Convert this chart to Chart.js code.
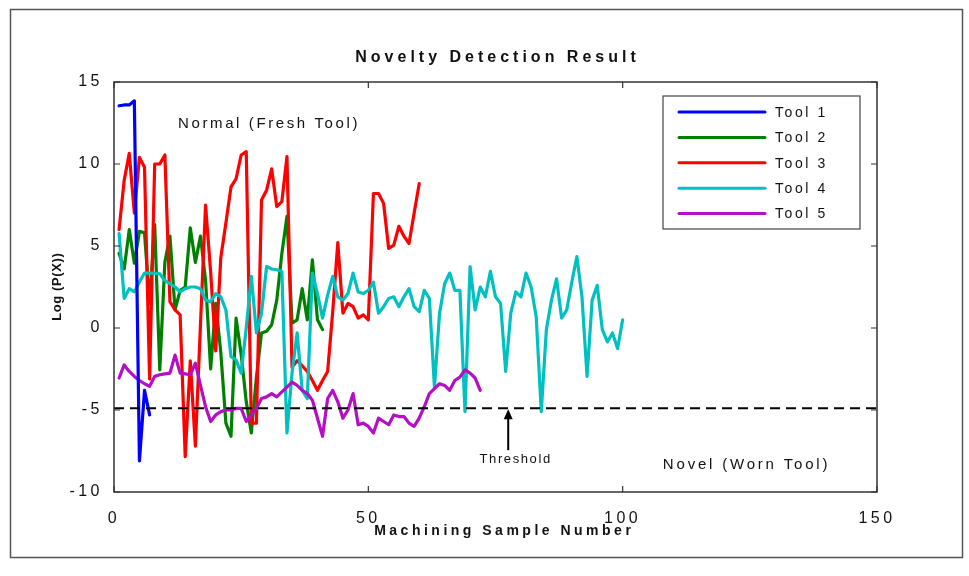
<!DOCTYPE html>
<html><head><meta charset="utf-8">
<script src="https://cdn.jsdelivr.net/npm/chart.js@4.4.0/dist/chart.umd.min.js"></script>
<style>html,body{margin:0;padding:0;background:#fff;}canvas{display:block;}</style>
</head><body>
<canvas id="c" width="969" height="576"></canvas>
<script>
const seriesNames = ['Tool 1', 'Tool 2', 'Tool 3', 'Tool 4', 'Tool 5'];
const tool1 = [13.55, 13.6, 13.6, 13.85, -8.1, -3.8, -5.3];
const tool2 = [4.55, 3.6, 6.0, 3.95, 5.9, 5.8, 1.5, 6.3, -2.55, 4.0, 5.6, 1.1, 2.3, 2.5, 6.1, 4.0, 5.6, 2.9, -2.5, 1.5,
  -1.5, -5.8, -6.6, 0.6, -1.6, -4.5, -6.4, -3.0, -0.3, -0.2, 0.2, 1.7, 4.55, 6.8, 0.3, 0.5, 2.4, 0.5, 4.15, 0.5, -0.1];
const tool3 = [6.0, 9.0, 10.65, 7.0, 10.4, 9.8, -3.1, 10.0, 10.0, 10.55,
  1.6, 1.1, 0.8, -7.85, -2.0, -7.2, 0.2, 7.5, 3.4, -1.4,
  4.3, 6.4, 8.6, 9.1, 10.55, 10.75, -5.8, -5.8, 7.8, 8.4,
  9.7, 7.4, 7.7, 10.45, -2.4, -2.0, -2.3, -2.65, -3.2, -3.8,
  -3.2, -2.65, 1.0, 5.2, 0.9, 1.5, 1.3, 0.6, 0.8, 0.5,
  8.2, 8.2, 7.6, 4.85, 5.05, 6.2, 5.6, 5.15, 7.0, 8.8];
const tool4 = [5.75, 1.8, 2.4, 2.2, 2.8, 3.35, 3.35, 3.35, 3.3, 2.9,
  2.7, 2.5, 2.2, 2.4, 2.5, 2.5, 2.4, 1.7, 1.6, 2.1,
  1.9, 1.1, -1.75, -1.95, -2.75, 0.0, 3.15, -0.3, 0.9, 3.75,
  3.6, 3.55, 3.45, -6.4, -2.75, -0.3, -3.8, -4.3, 3.35, 2.1,
  0.6, 2.0, 3.15, 1.9, 1.7, 2.1, 3.35, 2.2, 2.1, 2.3,
  2.8, 0.9, 1.3, 1.8, 1.9, 1.3, 1.9, 2.4, 1.3, 1.0,
  2.3, 1.8, -3.6, 0.9, 2.7, 3.35, 2.3, 2.3, -5.1, 3.75,
  1.1, 2.5, 1.9, 3.45, 1.9, 1.5, -2.65, 0.9, 2.2, 1.9,
  3.35, 2.5, 0.7, -5.1, -0.1, 1.7, 3.0, 0.6, 1.1, 2.8,
  4.35, 1.9, -2.95, 1.7, 2.6, -0.1, -0.85, -0.3, -1.25, 0.5];
const tool5 = [-3.05, -2.25, -2.65, -2.95, -3.2, -3.4, -3.55, -2.95, -2.85, -2.8,
  -2.75, -1.65, -2.75, -2.8, -2.85, -2.15, -3.5, -4.8, -5.7, -5.3,
  -5.1, -5.0, -5.0, -4.9, -4.9, -5.7, -5.3, -4.9, -4.3, -4.2,
  -4.0, -4.2, -3.9, -3.6, -3.3, -3.5, -3.8, -4.0, -4.4, -5.5,
  -6.6, -4.3, -3.8, -4.5, -5.5, -5.0, -4.0, -5.9, -5.8, -6.0,
  -6.4, -5.5, -5.7, -5.9, -5.3, -5.4, -5.4, -5.8, -6.0, -5.5,
  -4.8, -4.0, -3.7, -3.4, -3.5, -3.8, -3.2, -3.0, -2.55, -2.75,
  -3.05, -3.8];
const seriesColors = ['#0000ff', '#008000', '#ff0000', '#00c0c0', '#b40fc4'];
const xTickValues = [0, 50, 100, 150];
const yTickValues = [-10, -5, 0, 5, 10, 15];
const thresholdValue = -4.9;
const chartTitle = 'Novelty Detection Result';
const xAxisTitle = 'Machining Sample Number';
const yAxisTitle = 'Log (P(X))';
const normalLabel = 'Normal (Fresh Tool)';
const novelLabel = 'Novel (Worn Tool)';
const thresholdLabel = 'Threshold';

const FONT = '"Liberation Sans", Arial, sans-serif';
const allSeries = [tool1, tool2, tool3, tool4, tool5];
const drawOrder = [0, 4, 3, 2, 1];

const datasets = allSeries.map((arr, i) => ({
  label: seriesNames[i],
  data: arr.map((v, k) => ({ x: k + 1, y: v })),
  borderColor: seriesColors[i],
  backgroundColor: seriesColors[i],
  borderWidth: 3.2,
  pointRadius: 0,
  tension: 0,
  fill: false,
  borderJoinStyle: 'round',
  borderCapStyle: 'round',
  order: drawOrder[i]
}));
datasets.push({
  label: 'Threshold',
  data: [{ x: xTickValues[0], y: thresholdValue }, { x: xTickValues[xTickValues.length - 1], y: thresholdValue }],
  borderColor: '#000',
  borderWidth: 2,
  borderDash: [10, 6],
  pointRadius: 0,
  fill: false,
  order: -1
});

function txt(ctx, s, x, y, font, spacing, align, base) {
  ctx.save();
  ctx.font = font;
  ctx.letterSpacing = spacing + 'px';
  ctx.textAlign = align || 'left';
  ctx.textBaseline = base || 'middle';
  ctx.fillStyle = '#111';
  let dx = 0;
  if (align === 'center') dx = spacing / 2;
  ctx.fillText(s, x + dx, y);
  ctx.restore();
}

const decor = {
  id: 'decor',
  beforeDraw(chart) {
    chart.ctx.letterSpacing = '3.5px';
  },
  afterDraw(chart) {
    const ctx = chart.ctx;
    ctx.letterSpacing = '0px';
    const a = chart.chartArea;
    const xs = chart.scales.x, ys = chart.scales.y;
    ctx.save();
    ctx.strokeStyle = '#333';
    ctx.lineWidth = 1.5;
    ctx.strokeRect(a.left, a.top, a.right - a.left, a.bottom - a.top);
    ctx.lineWidth = 1.2;
    ctx.beginPath();
    xs.ticks.forEach(t => {
      const px = xs.getPixelForValue(t.value);
      ctx.moveTo(px, a.bottom); ctx.lineTo(px, a.bottom - 6);
      ctx.moveTo(px, a.top); ctx.lineTo(px, a.top + 6);
    });
    ys.ticks.forEach(t => {
      const py = ys.getPixelForValue(t.value);
      ctx.moveTo(a.left, py); ctx.lineTo(a.left + 6, py);
      ctx.moveTo(a.right, py); ctx.lineTo(a.right - 6, py);
    });
    ctx.stroke();
    ctx.strokeStyle = '#555';
    ctx.lineWidth = 1.5;
    ctx.strokeRect(10.5, 9.5, 952, 548);
    ctx.restore();

    txt(ctx, chartTitle, (a.left + a.right) / 2, 58, 'bold 16px ' + FONT, 4, 'center');
    txt(ctx, xAxisTitle, (a.left + a.right) / 2 + 7, 531, 'bold 14px ' + FONT, 3.5, 'center');
    ctx.save();
    ctx.translate(57, (a.top + a.bottom) / 2);
    ctx.rotate(-Math.PI / 2);
    txt(ctx, yAxisTitle, 0, 0, 'bold 13px ' + FONT, 0.6, 'center');
    ctx.restore();

    txt(ctx, normalLabel, xs.getPixelForValue(12.6), ys.getPixelForValue(12.45), '15px ' + FONT, 2.6, 'left');
    txt(ctx, novelLabel, xs.getPixelForValue(107.9), ys.getPixelForValue(-8.35), '15px ' + FONT, 2.8, 'left');
    txt(ctx, thresholdLabel, xs.getPixelForValue(78.8), ys.getPixelForValue(-8.0), '13px ' + FONT, 1.6, 'center');

    const ax = xs.getPixelForValue(77.5);
    const tipY = ys.getPixelForValue(thresholdValue) + 1;
    const baseY = ys.getPixelForValue(-7.45);
    ctx.save();
    ctx.strokeStyle = '#000';
    ctx.fillStyle = '#000';
    ctx.lineWidth = 2;
    ctx.beginPath();
    ctx.moveTo(ax, baseY); ctx.lineTo(ax, tipY + 8);
    ctx.stroke();
    ctx.beginPath();
    ctx.moveTo(ax, tipY);
    ctx.lineTo(ax - 4.5, tipY + 10);
    ctx.lineTo(ax + 4.5, tipY + 10);
    ctx.closePath();
    ctx.fill();
    ctx.restore();

    const lx = a.right - 214, ly = a.top + 14, lw = 197, lh = 133;
    ctx.save();
    ctx.fillStyle = '#fff';
    ctx.fillRect(lx, ly, lw, lh);
    ctx.strokeStyle = '#444';
    ctx.lineWidth = 1.2;
    ctx.strokeRect(lx, ly, lw, lh);
    seriesNames.forEach((n, i) => {
      const ry = ly + 16 + i * 25.4;
      ctx.strokeStyle = seriesColors[i];
      ctx.lineWidth = 3;
      ctx.lineCap = 'round';
      ctx.beginPath();
      ctx.moveTo(lx + 16, ry); ctx.lineTo(lx + 102, ry);
      ctx.stroke();
      txt(ctx, n, lx + 112, ry + 1, '14px ' + FONT, 2.6, 'left');
    });
    ctx.restore();
  }
};

new Chart(document.getElementById('c'), {
  type: 'line',
  data: { datasets },
  options: {
    responsive: false,
    animation: false,
    devicePixelRatio: 1,
    layout: { padding: { left: 10, right: 92, top: 82, bottom: 0 } },
    plugins: { legend: { display: false }, tooltip: { enabled: false }, title: { display: false } },
    scales: {
      x: {
        type: 'linear', min: 0, max: 150,
        afterBuildTicks: s => { s.ticks = xTickValues.map(v => ({ value: v })); },
        afterFit: s => { s.height = 84; },
        grid: { display: false },
        border: { display: false },
        ticks: { autoSkip: false, maxRotation: 0, padding: 9, color: '#111', font: { family: FONT, size: 16 } }
      },
      y: {
        type: 'linear', min: -10, max: 15,
        afterBuildTicks: s => { s.ticks = yTickValues.map(v => ({ value: v })); },
        afterFit: s => { s.width = 104; },
        grid: { display: false },
        border: { display: false },
        ticks: { autoSkip: false, padding: 3, color: '#111', font: { family: FONT, size: 16 } }
      }
    }
  },
  plugins: [decor]
});
</script>
</body></html>
